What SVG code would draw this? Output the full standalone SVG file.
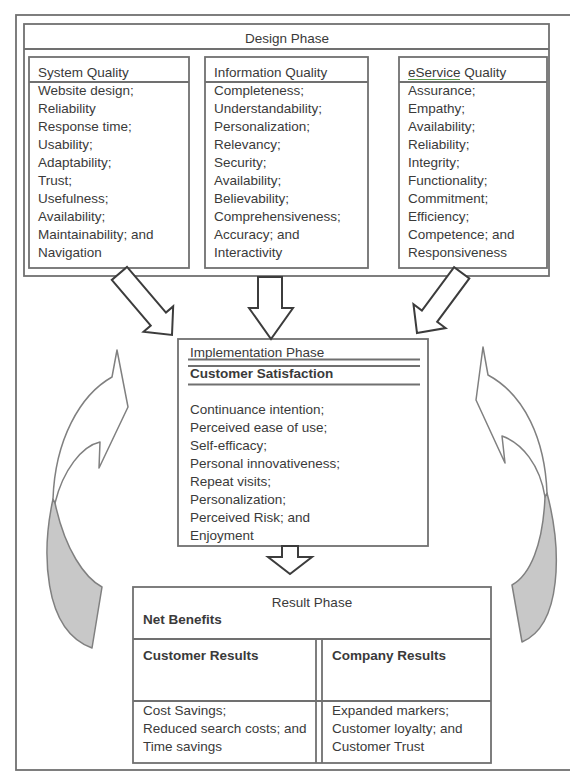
<svg xmlns="http://www.w3.org/2000/svg" width="570" height="772" viewBox="0 0 570 772">
<style>
.bx{fill:none;stroke:#707070;stroke-width:1.8}
.ln{stroke:#707070;stroke-width:1.8}
.t{font-family:"Liberation Sans",Arial,sans-serif;font-size:13.5px;fill:#3a3a3a}
.b{font-weight:bold}
.blk{fill:#fff;stroke:#3c3c3c;stroke-width:2;stroke-linejoin:miter}
.cw{fill:#fff;stroke:#808080;stroke-width:1.5;stroke-linejoin:round}
.cg{fill:#c8c8c8;stroke:#808080;stroke-width:1.5;stroke-linejoin:round}
</style>
<rect width="570" height="772" fill="#fff"/>
<g id="frame">
<rect x="16" y="15" width="600" height="755" class="bx"/>
</g>
<g id="design-phase">
<rect x="24" y="24" width="525" height="252" class="bx"/>
<line x1="24" y1="49" x2="549" y2="49" class="ln"/>
<text x="287" y="43" class="t" text-anchor="middle">Design Phase</text>
</g>
<g id="system-quality">
<rect x="29" y="57" width="160" height="211" class="bx"/>
<line x1="29" y1="82" x2="189" y2="82" class="ln"/>
<text class="t" x="38" y="77">System Quality</text>
<text class="t" x="38" y="95">Website design;</text>
<text class="t" x="38" y="113">Reliability</text>
<text class="t" x="38" y="131">Response time;</text>
<text class="t" x="38" y="149">Usability;</text>
<text class="t" x="38" y="167">Adaptability;</text>
<text class="t" x="38" y="185">Trust;</text>
<text class="t" x="38" y="203">Usefulness;</text>
<text class="t" x="38" y="221">Availability;</text>
<text class="t" x="38" y="239">Maintainability; and</text>
<text class="t" x="38" y="257">Navigation</text>
</g>
<g id="information-quality">
<rect x="205" y="57" width="163" height="211" class="bx"/>
<line x1="205" y1="82" x2="368" y2="82" class="ln"/>
<text class="t" x="214" y="77">Information Quality</text>
<text class="t" x="214" y="95">Completeness;</text>
<text class="t" x="214" y="113">Understandability;</text>
<text class="t" x="214" y="131">Personalization;</text>
<text class="t" x="214" y="149">Relevancy;</text>
<text class="t" x="214" y="167">Security;</text>
<text class="t" x="214" y="185">Availability;</text>
<text class="t" x="214" y="203">Believability;</text>
<text class="t" x="214" y="221">Comprehensiveness;</text>
<text class="t" x="214" y="239">Accuracy; and</text>
<text class="t" x="214" y="257">Interactivity</text>
</g>
<g id="eservice-quality">
<rect x="399" y="57" width="148" height="211" class="bx"/>
<line x1="399" y1="82" x2="547" y2="82" class="ln"/>
<text class="t" x="408" y="77">eService Quality</text>
<line x1="408" y1="79.5" x2="460" y2="79.5" stroke="#5a9a4a" stroke-width="1.2"/>
<text class="t" x="408" y="95">Assurance;</text>
<text class="t" x="408" y="113">Empathy;</text>
<text class="t" x="408" y="131">Availability;</text>
<text class="t" x="408" y="149">Reliability;</text>
<text class="t" x="408" y="167">Integrity;</text>
<text class="t" x="408" y="185">Functionality;</text>
<text class="t" x="408" y="203">Commitment;</text>
<text class="t" x="408" y="221">Efficiency;</text>
<text class="t" x="408" y="239">Competence; and</text>
<text class="t" x="408" y="257">Responsiveness</text>
</g>
<g id="implementation-phase">
<rect x="178" y="339" width="250" height="207" class="bx"/>
<text class="t" x="190" y="357">Implementation Phase</text>
<line x1="188" y1="359.5" x2="420" y2="359.5" class="ln"/>
<line x1="188" y1="366" x2="420" y2="366" class="ln"/>
<text class="t b" x="190" y="378">Customer Satisfaction</text>
<line x1="188" y1="384.5" x2="420" y2="384.5" class="ln"/>
<text class="t" x="190" y="414">Continuance intention;</text>
<text class="t" x="190" y="432">Perceived ease of use;</text>
<text class="t" x="190" y="450">Self-efficacy;</text>
<text class="t" x="190" y="468">Personal innovativeness;</text>
<text class="t" x="190" y="486">Repeat visits;</text>
<text class="t" x="190" y="504">Personalization;</text>
<text class="t" x="190" y="522">Perceived Risk; and</text>
<text class="t" x="190" y="540">Enjoyment</text>
</g>
<g id="result-phase">
<rect x="133" y="587" width="358" height="176" class="bx"/>
<text class="t" x="312" y="607" text-anchor="middle">Result Phase</text>
<text class="t b" x="143" y="624">Net Benefits</text>
<line x1="133" y1="639" x2="491" y2="639" class="ln"/>
<line x1="316" y1="639" x2="316" y2="763" class="ln"/>
<line x1="322" y1="639" x2="322" y2="763" class="ln"/>
<line x1="133" y1="701" x2="491" y2="701" class="ln"/>
<text class="t b" x="143" y="660">Customer Results</text>
<text class="t b" x="332" y="660">Company Results</text>
<text class="t" x="143" y="715">Cost Savings;</text>
<text class="t" x="143" y="733">Reduced search costs; and</text>
<text class="t" x="143" y="751">Time savings</text>
<text class="t" x="332" y="715">Expanded markers;</text>
<text class="t" x="332" y="733">Customer loyalty; and</text>
<text class="t" x="332" y="751">Customer Trust</text>
</g>
<g id="connectors">
<path class="blk" d="M0,0 L-21,-19.5 L-21,-10 L-81,-10 L-81,10 L-21,10 L-21,19.5 Z" transform="translate(172,335) rotate(49.5)"/>
<path class="blk" d="M258,277 L282,277 L282,308 L293,308 L271,339 L249,308 L258,308 Z"/>
<path class="blk" d="M0,0 L-21,-20 L-21,-9.5 L-75,-9.5 L-75,9.5 L-21,9.5 L-21,20 Z" transform="translate(417,333) rotate(126.6)"/>
<path class="blk" d="M282,546 L298,546 L298,557 L312,557 L290,574 L268,557 L282,557 Z"/>
<path class="cg" d="M53,499 C42,550 42,630 92,648 L102,587 C85,578 65,550 55,503 Z"/>
<path class="cw" d="M53,499 C55,440 80,395 112,377 L117,350 L128,407 L99,468 L100,442 C82,446 63,470 55,503 Z"/>
<path class="cg" d="M547,493 C562,550 562,625 522,642 L512,585 C530,575 543,545 545,497 Z"/>
<path class="cw" d="M547,493 C545,440 525,395 488,375 L483,347 L476,400 L505,463 L502,436 C522,443 540,465 545,497 Z"/>
</g>
</svg>
